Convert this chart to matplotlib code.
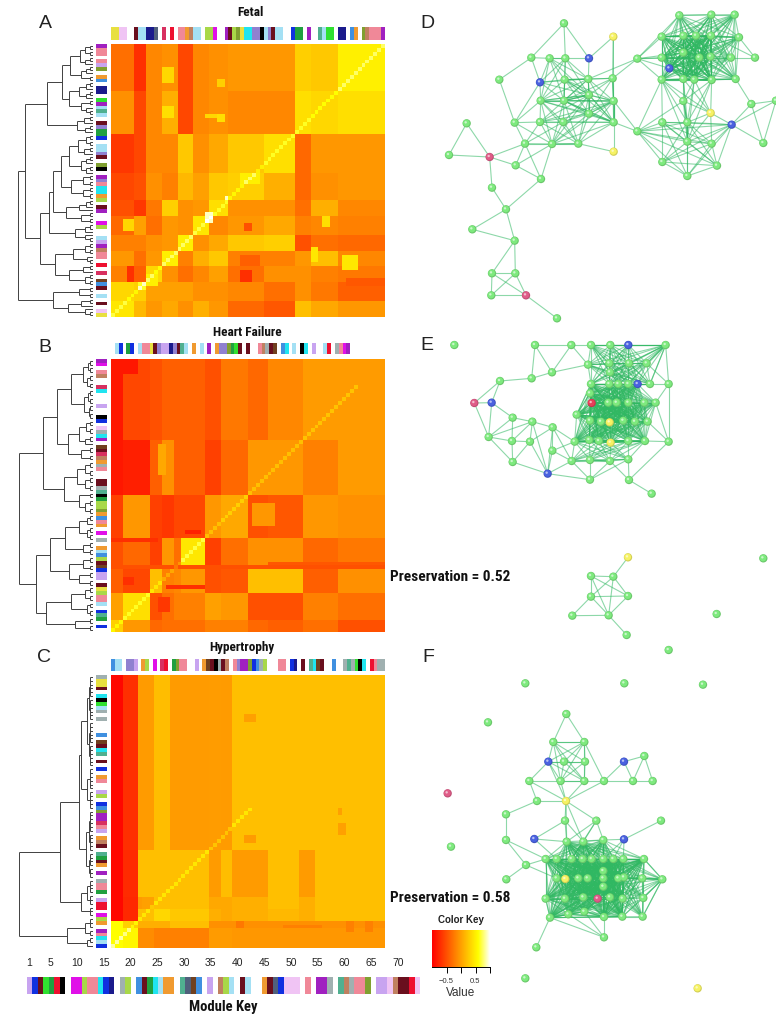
#!/usr/bin/env python
# Module preservation figure: three correlation heatmaps on the left,
# three network plots on the right.
from itertools import combinations

import numpy as np
import matplotlib
matplotlib.use("Agg")
import matplotlib.pyplot as plt
from matplotlib.colors import LinearSegmentedColormap, to_rgb

W, H = 776, 1014
NARROW = ['Roboto Condensed', 'Liberation Sans Narrow', 'Roboto', 'DejaVu Sans']

# module colours, one letter per colour
PAL = {'w': '#ffffff', 'y': '#e8e040', 'p': '#f0c4f4', 'k': '#000000', 'd': '#6a0f1e',
       'b': '#a4e0f4', 'n': '#1a1a8c', 's': '#50607c', 'c': '#d83060', 'r': '#ee1030',
       'm': '#e010e8', 'o': '#f09a30', 't': '#c08060', 'l': '#a8d848', 'v': '#a020c0',
       'g': '#20a040', 'f': '#30e030', 'a': '#20e4f0', 'u': '#1030e0', 'h': '#4090e0',
       'q': '#f08898', 'e': '#50b090', 'i': '#9080d0', 'x': '#a0b0b0', 'z': '#c8a4f0',
       'j': '#80a030', 'B': '#704020'}

FETAL_TOP = "yyppwwdbbnnswcwrwqqotbbwllmwwvdljyaaiikbidbbwwuggwvwwebffwnnwhowjtqqqv"
FETAL_LEFT = "vqqwqzjwohwnnwfvbebwdigguwbbidwjkwviqaaolwdvwwmlwwbzvtqqwrwcwBhdwbwdwpy"
HF_TOP = "wbuwguwbqqydizznidebwowbwvwoiijgfdwdwwqtxdBwhawbwkawzwwbrwxqmvwwwwwwwww"
HF_LEFT = "vmwqtwwcawwwzwwkuwpxavwBdctoxqwwddxekglljohqowmwxwobhldBuzzwdylqqbwuegwuw"
HYP_TOP = "hbbwiizwolwmwcrwgjqqwwzwoBdkxdtwqivvjuhxlwwwqqwunwdweaBdwwhwwxexfkawrqxx"
HYP_LEFT = "xyydwakfbxwxwwwhwBdaewdwuwoqwwzlwuhjvvcqzwotdwegdowvwxqqgwzrrwmlowvqabu"
KEY_STRIP = "zudfgrkwmmlqqaunwxlwhdgaboowesBhwzwtlbwdbwwodsupppwqwvvxwetxqqjwzzptddrp"

# heatmap blocks: edges in module positions, values as on the colour key
FETAL_ROWS = [0, 12, 23, 33, 40, 44, 49, 53, 57, 61, 66, 70]
FETAL_COLS = [0, 6, 9, 13, 17, 21, 25, 30, 39, 47, 51, 58, 70]
FETAL_VALS = [
    [-0.3, -0.7, -0.15, -0.1, -0.55, -0.15, -0.1, -0.05, -0.05, 0.3, 0.25, 0.5],
    [-0.1, -0.55, -0.15, 0.1, -0.55, -0.15, -0.1, -0.15, -0.15, 0.4, 0.35, 0.4],
    [-0.65, -0.55, -0.15, -0.15, 0.25, -0.1, 0.05, 0.25, 0.4, -0.35, -0.05, -0.05],
    [-0.55, -0.5, -0.1, -0.2, 0.15, 0.0, 0.25, 0.3, 0.1, -0.35, -0.1, -0.05],
    [-0.5, -0.65, -0.25, 0.3, -0.1, -0.05, 0.4, -0.1, -0.1, -0.3, 0.1, -0.15],
    [-0.35, 0.0, -0.3, -0.05, -0.1, 0.45, -0.15, -0.05, 0.05, -0.2, -0.15, -0.2],
    [-0.2, -0.2, -0.1, -0.05, 0.5, -0.1, 0.05, 0.25, 0.3, -0.5, -0.3, -0.35],
    [-0.05, -0.3, -0.05, 0.5, -0.2, 0.1, 0.25, -0.2, -0.2, -0.05, 0.2, -0.15],
    [-0.2, -0.4, 0.35, -0.1, -0.3, -0.15, 0.0, -0.3, -0.1, -0.1, -0.2, -0.25],
    [0.35, 0.3, 0.0, 0.0, 0.0, -0.1, -0.1, -0.15, -0.3, -0.1, -0.25, -0.4],
    [0.45, 0.15, -0.05, 0.05, -0.1, 0.1, -0.05, -0.35, -0.45, 0.2, 0.05, -0.05],
]
# small patches: first row, last row, first column, last column, value
FETAL_PATCHES = [(43, 46, 24, 26, 0.9), (39, 40, 29, 30, 0.9), (36, 38, 31, 33, 0.3), (58, 61, 33, 36, -0.7),
                 (57, 61, 4, 6, -0.7), (45, 48, 3, 6, 0.35), (52, 56, 51, 53, 0.45), (54, 58, 59, 63, 0.45),
                 (44, 47, 54, 56, 0.4), (61, 63, 7, 9, 0.65), (59, 62, 9, 12, 0.5), (33, 36, 33, 38, 0.5),
                 (54, 57, 33, 38, -0.4), (46, 48, 34, 36, -0.5), (60, 62, 60, 70, -0.45), (6, 10, 13, 16, 0.35),
                 (16, 19, 13, 16, 0.4), (18, 19, 24, 27, 0.35), (9, 11, 27, 29, 0.3), (18, 20, 27, 29, 0.4)]

HF_ROWS = [0, 21, 35, 46, 53, 60, 67, 70]
HF_COLS = [0, 3, 10, 13, 16, 18, 24, 28, 35, 40, 49, 58, 70]
HF_VALS = [
    [-0.85, -0.55, -0.5, -0.4, -0.4, -0.4, -0.5, -0.25, -0.35, -0.15, -0.03, -0.03],
    [-0.85, -0.8, -0.4, -0.1, -0.4, -0.4, -0.6, -0.35, -0.05, -0.05, -0.2, -0.03],
    [-0.6, -0.05, -0.6, -0.65, -0.55, -0.55, -0.05, 0.05, -0.5, -0.45, -0.05, -0.1],
    [-0.5, -0.35, -0.6, -0.05, -0.3, 0.45, -0.6, -0.3, -0.1, -0.1, -0.35, -0.25],
    [-0.4, -0.55, 0.2, -0.2, -0.15, -0.05, -0.5, -0.45, 0.2, 0.2, -0.4, -0.1],
    [0.0, 0.4, -0.5, -0.3, -0.2, -0.2, 0.0, -0.05, -0.5, -0.5, -0.2, -0.3],
    [0.3, -0.05, -0.35, -0.3, -0.3, -0.3, -0.2, -0.2, -0.35, -0.4, -0.3, -0.5],
]
HF_PATCHES = [(22, 30, 12, 14, 0.05), (0, 4, 3, 7, -0.85), (53, 54, 0, 70, -0.5), (58, 59, 14, 24, -0.7),
              (44, 45, 19, 23, -0.8), (52, 53, 40, 70, -0.45), (37, 43, 36, 42, -0.05), (30, 33, 49, 58, -0.2),
              (56, 58, 3, 6, -0.7), (61, 65, 12, 15, -0.65), (46, 47, 0, 12, -0.7)]

HYP_ROWS = [0, 45, 57, 60, 63, 65, 70]
HYP_COLS = [0, 3, 7, 11, 15, 25, 28, 31, 40, 48, 52, 70]
HYP_VALS = [
    [-0.95, -0.7, -0.03, 0.18, -0.03, 0.1, -0.03, 0.2, 0.2, 0.2, 0.2],
    [-0.95, -0.72, 0.2, 0.2, 0.2, -0.03, 0.18, -0.03, 0.2, -0.03, 0.2],
    [-0.95, -0.75, -0.03, 0.2, 0.2, 0.05, 0.05, 0.1, 0.2, 0.1, 0.2],
    [-0.95, -0.75, 0.2, 0.35, 0.25, 0.1, 0.05, 0.1, 0.15, 0.1, 0.2],
    [0.6, 0.3, 0.1, 0.1, 0.2, -0.1, -0.1, -0.1, -0.1, -0.1, -0.1],
    [0.6, 0.55, -0.12, -0.2, -0.2, -0.03, -0.03, -0.05, -0.05, -0.05, -0.05],
]
HYP_PATCHES = [(10, 12, 34, 37, 0.0), (41, 43, 34, 37, -0.03), (38, 41, 58, 60, 0.0), (34, 36, 58, 59, 0.0),
               (63, 65, 32, 34, -0.25), (64, 65, 44, 54, -0.2), (63, 66, 60, 62, -0.2), (63, 66, 65, 67, -0.2),
               (57, 60, 8, 11, 0.0), (0, 45, 25, 28, -0.02)]

# dendrograms: (height, child, child), a plain number is that many leaves
FETAL_TREE = (75,
              (68,
               (46,
                (31,
                 (23, (13, (8, 2, 2), (8, 2, 1)), (12, (7, 2, 1), 2)),
                 (24, (14, (7, 2, 1), (7, 2, 1)), (12, 2, (7, 1, 2)))),
                (16, (9, 2, 1), (8, 2, 1))),
               (53,
                (44,
                 (40,
                  (32,
                   (24, (15, (7, 2, 2), (9, 2, 1)), (12, (7, 2, 1), (7, 2, 1))),
                   (22, (10, 2, 2), (10, 2, 2))),
                  (27, (14, (7, 2, 1), 1), (12, 2, 2))),
                 (18, (8, 2, 1), (8, 1, 2))),
                (38, (20, (8, 2, 2), (6, 1, 2)), (24, (10, 2, 1), (8, 2, 2))))),
              (40, (14, 2, 2), (25, (12, 2, 1), (8, 1, 2))))
HF_TREE = (74,
           (50,
            (36,
             (22, (10, (5, 2, 2), (6, 2, 2)), (9, (5, 2, 2), (4, 2, 2))),
             (25, (14, (7, 2, 2), (8, 2, 1)), (12, 2, 2))),
            (29, (16, (8, 2, 2), (8, 2, 2)), (14, 2, (8, 2, 2)))),
           (57,
            (43,
             (28, (14, (6, 2, 1), (6, 2, 2)), (10, 2, 2)),
             (24, (10, 2, 2), (14, 2, 2))),
            (47, (22, (8, 2, 2), (6, 2, 2)), (18, 2, 2))))
HYP_TREE = (74,
            (33,
             (14,
              (12, (6, (4, 6, 6), (4, 6, 6)), (6, 6, 5)),
              (7, (4, 6, 5), (4, 4, 3))),
             (12, (6, 4, 3), 3)),
            (26, (8, 3, 2), (6, 2, 1)))

# networks: node layout, edges as index pairs and cliques
GREEN, BLUE, PINK, YEL = '#7eea7e', '#4a62e0', '#e05c88', '#f6f264'

D_XY = [(492, 70), (640, 110), (394, 173), (449, 175), (496, 175), (567, 175), (298, 239), (420, 247),
        (494, 239), (565, 237), (638, 235), (422, 302), (492, 302), (567, 285), (641, 303), (344, 368),
        (420, 366), (490, 366), (567, 341), (641, 367), (375, 431), (456, 432), (535, 431), (641, 455),
        (200, 370), (147, 465), (269, 471), (347, 496), (423, 537), (276, 563), (318, 628), (217, 688),
        (344, 722), (276, 820), (346, 820), (274, 886), (378, 886), (471, 955), (712, 176), (838, 46),
        (934, 44), (1004, 44), (785, 110), (850, 107), (888, 107), (933, 107), (1017, 112), (785, 173),
        (850, 158), (898, 173), (932, 170), (993, 173), (1065, 173), (808, 205), (785, 239), (850, 237),
        (883, 239), (935, 240), (1007, 237), (850, 303), (932, 339), (712, 394), (787, 367), (862, 367),
        (995, 374), (862, 425), (935, 431), (787, 486), (951, 497), (862, 528), (1054, 312), (1090, 429),
        (1128, 302)]
D_SPECIAL = {1: YEL, 5: BLUE, 7: BLUE, 23: YEL, 26: PINK, 36: PINK, 53: BLUE, 60: YEL, 64: BLUE}
D_CLIQUES = [[3, 4, 7, 8, 9, 11, 12, 13], [11, 12, 13, 14, 16, 17, 18, 19, 21, 22], [8, 9, 10, 12, 13, 14, 18, 19],
             [39, 40, 41, 42, 43, 44, 45, 46, 47, 48, 49, 50, 51, 53, 54, 55, 56, 57, 58],
             [42, 43, 44, 45, 47, 48, 49, 50, 53, 55, 56, 57], [43, 44, 45, 48, 49, 50, 55, 56, 57],
             [54, 55, 56, 57, 59, 60, 63, 65], [61, 62, 63, 65, 67, 68, 66, 69, 64]]
D_EDGES = [(0, 2), (0, 5), (0, 4), (2, 3), (3, 4), (4, 5), (1, 5), (1, 10), (1, 19), (2, 6), (6, 15), (2, 7), (5, 9),
           (10, 14), (14, 19), (19, 23), (22, 23), (15, 20), (15, 16), (15, 7), (15, 21), (15, 11), (20, 21), (21, 22),
           (20, 16), (20, 17), (20, 22), (20, 28), (21, 28), (20, 26), (26, 24), (26, 25), (24, 25), (26, 27), (26, 29),
           (27, 21), (27, 20), (27, 28), (29, 30), (28, 30), (30, 31), (30, 32), (31, 32), (32, 33), (32, 34), (33, 34),
           (33, 35), (33, 36), (34, 35), (34, 36), (35, 36), (36, 37), (10, 38), (9, 38), (19, 61), (14, 61), (38, 39),
           (38, 42), (38, 47), (38, 48), (38, 49), (38, 53), (38, 54), (51, 52), (46, 52), (45, 52), (58, 70), (60, 64),
           (64, 70), (64, 71), (70, 72), (70, 71), (71, 72), (64, 72), (61, 54), (61, 59), (54, 62), (59, 63), (60, 66)]

E_XY = [(163, 45), (405, 45), (514, 45), (573, 45), (631, 45), (685, 45), (797, 45), (564, 104), (628, 100), (687, 100),
        (740, 100), (456, 127), (395, 145), (300, 153), (630, 127), (573, 162), (628, 162), (655, 162), (685, 162),
        (713, 162), (750, 162), (806, 162), (223, 219), (275, 218), (575, 219), (570, 190), (625, 218), (650, 218),
        (685, 218), (733, 218), (767, 218), (530, 254), (338, 263), (397, 275), (570, 272), (603, 275), (629, 277),
        (670, 272), (705, 275), (743, 275), (458, 292), (266, 321), (336, 333), (390, 335), (524, 335), (568, 330),
        (597, 333), (632, 338), (685, 333), (735, 333), (806, 335), (457, 362), (338, 396), (515, 393), (570, 390),
        (630, 393), (685, 388), (443, 431), (570, 449), (687, 450), (755, 491), (684, 682), (573, 738), (640, 740),
        (573, 800), (684, 798), (517, 857), (626, 856), (680, 915), (1090, 685), (950, 852), (806, 960)]
E_SPECIAL = {5: BLUE, 19: BLUE, 22: PINK, 23: BLUE, 24: '#e8405a', 36: YEL, 47: YEL, 57: BLUE, 61: YEL}
E_CLIQUES = [[15, 16, 17, 18, 19, 24, 25, 26, 27, 28, 29, 30, 31, 34, 35, 36, 37, 38, 39, 44, 45, 46, 47, 48, 49],
             [3, 4, 5, 6, 7, 8, 9, 10, 14, 15, 16, 17, 18, 19, 20], [44, 45, 46, 47, 48, 49, 53, 54, 55, 56],
             [15, 24, 25, 26, 28, 31, 34, 35, 37, 38]]
E_EDGES = [(1, 2), (2, 3), (3, 4), (4, 5), (5, 6), (1, 11), (1, 12), (11, 12), (2, 11), (2, 7), (7, 11), (12, 13), (13, 22),
           (13, 23), (22, 23), (22, 41), (23, 41), (23, 32), (32, 33), (32, 41), (33, 40), (32, 42), (33, 41), (33, 42),
           (33, 43), (41, 42), (41, 52), (42, 43), (42, 52), (43, 52), (43, 57), (33, 57), (40, 43), (40, 51), (40, 57),
           (40, 44), (40, 53), (51, 57), (52, 57), (51, 53), (51, 44), (57, 53), (57, 58), (53, 58), (54, 58), (55, 58),
           (55, 59), (56, 59), (59, 60), (56, 58), (54, 55), (6, 21), (6, 10), (21, 30), (21, 50), (30, 50), (21, 20),
           (50, 49), (50, 39), (50, 59), (10, 21), (6, 20), (61, 63), (62, 63), (62, 64), (62, 65), (62, 67), (63, 64),
           (63, 65), (63, 67), (64, 65), (64, 66), (64, 67), (66, 67), (65, 67), (67, 68)]

F_XY = [(499, 132), (460, 216), (553, 216), (445, 275), (492, 275), (555, 275), (672, 275), (733, 258), (388, 333),
        (482, 333), (553, 333), (612, 333), (699, 333), (758, 333), (411, 393), (498, 393), (318, 433), (495, 452),
        (589, 452), (783, 452), (318, 510), (403, 507), (672, 508), (378, 585), (319, 628), (500, 515), (550, 515),
        (610, 510), (437, 567), (470, 567), (515, 567), (548, 567), (575, 567), (610, 567), (640, 567), (670, 567),
        (732, 567), (470, 625), (496, 627), (535, 625), (563, 625), (610, 603), (610, 625), (655, 625), (672, 622),
        (727, 625), (787, 628), (610, 650), (437, 686), (495, 686), (550, 682), (593, 686), (630, 682), (668, 686),
        (730, 684), (450, 743), (505, 733), (553, 725), (612, 741), (667, 740), (728, 740), (612, 802), (409, 832),
        (376, 40), (673, 40), (909, 44), (264, 157), (143, 370), (153, 530), (376, 925), (893, 955)]
F_SPECIAL = {3: BLUE, 6: BLUE, 15: YEL, 21: BLUE, 22: BLUE, 38: YEL, 51: PINK, 67: PINK, 70: YEL}
F_CLIQUES = [list(range(25, 45)) + list(range(47, 54)) + [55, 56, 57, 58, 59],
             [33, 34, 35, 36, 41, 42, 43, 44, 45, 46, 47, 52, 53, 54, 58, 59, 60],
             [1, 2, 3, 4, 5, 9, 10], [55, 56, 57, 58, 61]]
F_EDGES = [(0, 1), (0, 2), (1, 2), (8, 9), (9, 10), (10, 11), (11, 12), (12, 13), (6, 7), (6, 11), (6, 12), (7, 12), (7, 13),
           (8, 14), (8, 15), (14, 15), (9, 15), (10, 15), (11, 15), (3, 8), (3, 15), (2, 11), (14, 16), (16, 20), (20, 23),
           (23, 24), (15, 17), (15, 18), (17, 25), (17, 26), (15, 25), (15, 26), (18, 25), (18, 26), (18, 27), (18, 30),
           (21, 17), (21, 25), (21, 29), (20, 28), (22, 19), (22, 27), (22, 33), (22, 34), (22, 35), (23, 28), (23, 37),
           (55, 62), (28, 48), (28, 37), (48, 55), (36, 46), (45, 46), (54, 46), (60, 46)]

# colour key and module number labels
KEY_TICKS = [-0.5, 0, 0.5, 1]
MODULE_LABELS = [1, 5, 10, 15, 20, 25, 30, 35, 40, 45, 50, 55, 60, 65, 70]

heat = LinearSegmentedColormap.from_list('heat', [(0, '#ff0000'), (0.5, '#ffa000'), (0.8, '#ffff00'), (1, '#ffffff')])

fig = plt.figure(figsize=(W / 100, H / 100), dpi=100)


def px_axes(x0, y0, x1, y1):
    ax = fig.add_axes([x0 / W, 1 - y1 / H, (x1 - x0) / W, (y1 - y0) / H])
    ax.axis('off')
    return ax


def block_matrix(rows, cols, vals, patches, diag_end):
    m = np.repeat(np.repeat(np.array(vals, float), np.diff(rows), axis=0), np.diff(cols), axis=1)
    for r0, r1, c0, c1, v in patches:
        m[r0:r1, c0:c1] = v
    # a module against itself is brighter than its neighbours
    for i in range(diag_end):
        m[69 - i, i] += 0.25
    return m


def draw_strip(box, codes, vertical=False):
    ax = px_axes(*box)
    img = np.array([[to_rgb(PAL[c]) for c in codes]])
    if vertical:
        img = img.transpose(1, 0, 2)
    ax.imshow(img, aspect='auto', interpolation='nearest')


def draw_tree(ax, node, state):
    # returns the leaf position and the height where the parent has to attach
    if isinstance(node, int):
        ys = np.arange(state[0], state[0] + node)
        state[0] += node
        if node == 1:
            return ys[0], 0
        ax.hlines(ys, 0, 3, color='#404040', lw=0.7)
        ax.vlines(3, ys[0], ys[-1], color='#404040', lw=0.7)
        return ys.mean(), 3
    h, a, b = node
    ya, ha = draw_tree(ax, a, state)
    yb, hb = draw_tree(ax, b, state)
    ax.hlines([ya, yb], [ha, hb], h, color='#404040', lw=0.7)
    ax.vlines(h, ya, yb, color='#404040', lw=0.7)
    return (ya + yb) / 2, h


def draw_heatmap(y0, y1, rows, cols, vals, patches, diag_end, tree, left, top, top_y):
    ax = px_axes(111, y0, 385, y1)
    ax.imshow(block_matrix(rows, cols, vals, patches, diag_end), cmap=heat, vmin=-1, vmax=1, aspect='auto',
              interpolation='nearest')
    draw_strip((111, top_y[0], 385, top_y[1]), top)
    draw_strip((96, y0, 107, y1), left, vertical=True)
    tx = px_axes(18, y0, 93, y1)
    state = [0]
    draw_tree(tx, tree, state)
    tx.set_xlim(75, 0)
    tx.set_ylim(state[0] - 0.5, -0.5)


def draw_network(box, xy, special, cliques, edges):
    ax = px_axes(*box)
    ax.set_xlim(0, (box[2] - box[0]) * 3)
    ax.set_ylim((box[3] - box[1]) * 3, 0)
    pairs = list(edges)
    for c in cliques:
        pairs += list(combinations(c, 2))
    for i, j in pairs:
        ax.plot([xy[i][0], xy[j][0]], [xy[i][1], xy[j][1]], color='#30b862', lw=0.8, alpha=0.55,
                solid_capstyle='round', zorder=1)
    xs = np.array([p[0] for p in xy])
    ys = np.array([p[1] for p in xy])
    cols = [to_rgb(special.get(i, GREEN)) for i in range(len(xy))]
    # shaded ball: darker rim, body, small highlight
    ax.scatter(xs, ys, s=36, c=np.array(cols) * 0.85, edgecolors='none', zorder=2, clip_on=False)
    ax.scatter(xs - 1, ys - 1, s=24, c=cols, edgecolors='none', zorder=3, clip_on=False)
    ax.scatter(xs - 3, ys - 3, s=3, c='white', alpha=0.6, edgecolors='none', zorder=4, clip_on=False)


draw_heatmap(44, 317, FETAL_ROWS, FETAL_COLS, FETAL_VALS, FETAL_PATCHES, 70, FETAL_TREE, FETAL_LEFT, FETAL_TOP, (27, 40))
draw_heatmap(359, 632, HF_ROWS, HF_COLS, HF_VALS, HF_PATCHES, 63, HF_TREE, HF_LEFT, HF_TOP, (343, 354))
draw_heatmap(675, 948, HYP_ROWS, HYP_COLS, HYP_VALS, HYP_PATCHES, 36, HYP_TREE, HYP_LEFT, HYP_TOP, (659, 671))

draw_network((400, 0, 776, 330), D_XY, D_SPECIAL, D_CLIQUES, D_EDGES)
draw_network((400, 330, 776, 670), E_XY, E_SPECIAL, E_CLIQUES, E_EDGES)
draw_network((400, 670, 776, 1014), F_XY, F_SPECIAL, F_CLIQUES, F_EDGES)

# module key along the bottom
draw_strip((27, 977, 420, 994), KEY_STRIP)
lab = px_axes(29, 955, 398, 971)
lab.set_xlim(1, 70)
lab.set_ylim(0, 1)
for m in MODULE_LABELS:
    lab.text(m, 0.5, str(m), ha='center', va='center', fontsize=7.5, color='#222222',
             family=['Liberation Sans', 'DejaVu Sans'])

# colour key
key = fig.add_axes([432 / W, 1 - 967 / H, 58 / W, 37 / H])
key.imshow(np.linspace(-1, 1, 256)[None, :], cmap=heat, aspect='auto', vmin=-1, vmax=1, extent=[-1, 1, 0, 1])
key.set_yticks([])
key.set_xticks(KEY_TICKS)
key.set_xticklabels(['\u22120.5', '', '0.5', ''], fontsize=5.5, family=['Liberation Sans', 'DejaVu Sans'], color='#333333')
key.tick_params(axis='x', length=4, width=0.7, pad=4)
for name, sp in key.spines.items():
    sp.set_visible(name == 'bottom')
    sp.set_linewidth(0.7)


def txt(x, y, s, size, weight='normal', family=('Liberation Sans', 'DejaVu Sans'), ha='center', color='#111111'):
    fig.text(x / W, 1 - y / H, s, fontsize=size, fontweight=weight, family=list(family), ha=ha, va='center', color=color)


for label, x, y in [('A', 45, 23), ('B', 45, 347), ('C', 44, 657), ('D', 427, 23), ('E', 427, 345), ('F', 428, 657)]:
    txt(x, y, label, 14, color='#222222')

txt(250, 13, 'Fetal', 9.5, 'bold', NARROW)
txt(247, 332, 'Heart Failure', 9.5, 'bold', NARROW)
txt(242, 647, 'Hypertrophy', 9.5, 'bold', NARROW)
txt(223, 1007, 'Module Key', 10.5, 'bold', NARROW)
txt(390, 577, 'Preservation = 0.52', 11, 'bold', NARROW, ha='left')
txt(390, 898, 'Preservation = 0.58', 11, 'bold', NARROW, ha='left')
txt(461, 920, 'Color Key', 7, 'bold', color='#222222')
txt(461, 993, 'Value', 8.5, color='#333333')

fig.savefig('out.png', dpi=100)
